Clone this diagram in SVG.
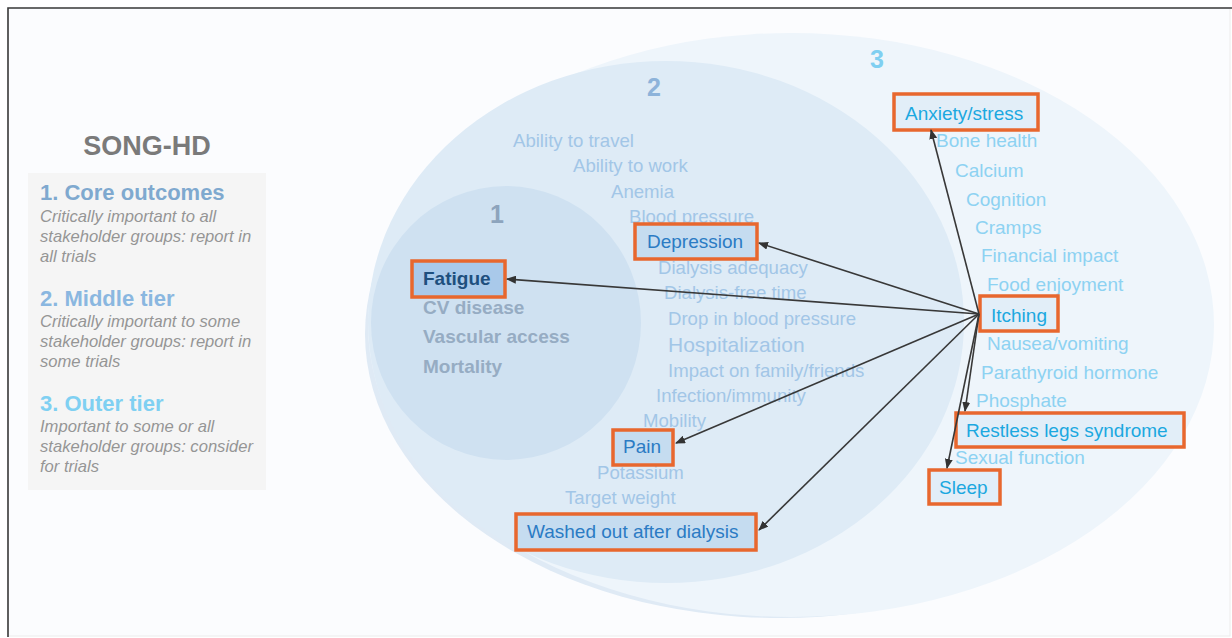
<svg xmlns="http://www.w3.org/2000/svg" width="1232" height="638" viewBox="0 0 1232 638">
<defs>
<marker id="ah" markerWidth="10" markerHeight="8" refX="9" refY="4" orient="auto" markerUnits="userSpaceOnUse">
<path d="M0,0 L10,4 L0,8 z" fill="#333"/>
</marker>
</defs>
<style>
text{font-family:"Liberation Sans",Arial,sans-serif}
.t2{fill:#a2c6e7;font-size:18.6px}
.t3{fill:#8dd2f2;font-size:19px}
.t1{fill:#96acc3;font-size:19px;font-weight:bold}
.box{stroke:#e8672e;stroke-width:3.5}
.b1{fill:#a9c9ea}
.b2{fill:#c5dcf0}
.b3{fill:#e2eef8}
.bt2{fill:#2b7bc4;font-size:19px}
.bt3{fill:#1ba8e0;font-size:19px}
.desc{fill:#959595;font-size:16.6px;font-style:italic}
.conn{stroke:#383838;stroke-width:1.6;fill:none;marker-end:url(#ah)}
</style>
<rect x="0" y="0" width="1232" height="638" fill="#ffffff"/>
<rect x="8" y="8" width="1222" height="628" fill="#fbfcfe" stroke="#ececec" stroke-width="1"/>
<path d="M8,637 L8,8 L1232,8" fill="none" stroke="#3a3a3a" stroke-width="1.6"/>

<g id="legend">
<rect x="28" y="173" width="238" height="317" fill="#f5f5f5"/>
<text x="147" y="155" text-anchor="middle" font-size="27" font-weight="bold" fill="#7a7a7a">SONG-HD</text>
<text x="40" y="200" font-size="22" font-weight="bold" fill="#7fa9cf">1. Core outcomes</text>
<text class="desc" x="40" y="222">Critically important to all</text>
<text class="desc" x="40" y="242">stakeholder groups: report in</text>
<text class="desc" x="40" y="262">all trials</text>
<text x="40" y="306" font-size="22" font-weight="bold" fill="#8ab7e0">2. Middle tier</text>
<text class="desc" x="40" y="327">Critically important to some</text>
<text class="desc" x="40" y="347">stakeholder groups: report in</text>
<text class="desc" x="40" y="367">some trials</text>
<text x="40" y="411" font-size="22" font-weight="bold" fill="#7fd0f2">3. Outer tier</text>
<text class="desc" x="40" y="432">Important to some or all</text>
<text class="desc" x="40" y="452">stakeholder groups: consider</text>
<text class="desc" x="40" y="472">for trials</text>
</g>

<g id="tiers">
<ellipse cx="780" cy="334" rx="415" ry="284" fill="#dfeaf5"/>
<ellipse cx="791" cy="325" rx="423" ry="292" fill="#eef5fb"/>
<ellipse cx="666" cy="322" rx="298" ry="261" fill="#deebf6"/>
<ellipse cx="506" cy="323" rx="135" ry="137" fill="#cfe1f1"/>
<text x="497" y="223" text-anchor="middle" font-size="25" font-weight="bold" fill="#8da4bd">1</text>
<text x="654" y="96" text-anchor="middle" font-size="25" font-weight="bold" fill="#8db3da">2</text>
<text x="877" y="68" text-anchor="middle" font-size="25" font-weight="bold" fill="#7fcff1">3</text>
</g>

<g id="tier1-items">
<text class="t1" x="423" y="314">CV disease</text>
<text class="t1" x="423" y="343">Vascular access</text>
<text class="t1" x="423" y="373">Mortality</text>
</g>

<g id="tier2-items">
<text class="t2" x="513" y="147">Ability to travel</text>
<text class="t2" x="573" y="172">Ability to work</text>
<text class="t2" x="611" y="198">Anemia</text>
<text class="t2" x="629" y="223">Blood pressure</text>
<text class="t2" x="658" y="274">Dialysis adequacy</text>
<text class="t2" x="664" y="299">Dialysis-free time</text>
<text class="t2" x="668" y="325">Drop in blood pressure</text>
<text class="t2" x="668" y="352" style="font-size:21px">Hospitalization</text>
<text class="t2" x="668" y="377">Impact on family/friends</text>
<text class="t2" x="656" y="402">Infection/immunity</text>
<text class="t2" x="643" y="427">Mobility</text>
<text class="t2" x="597" y="479">Potassium</text>
<text class="t2" x="565" y="504">Target weight</text>
</g>

<g id="tier3-items">
<text class="t3" x="936" y="147">Bone health</text>
<text class="t3" x="955" y="177">Calcium</text>
<text class="t3" x="966" y="206">Cognition</text>
<text class="t3" x="975" y="234">Cramps</text>
<text class="t3" x="981" y="262">Financial impact</text>
<text class="t3" x="987" y="291">Food enjoyment</text>
<text class="t3" x="987" y="350">Nausea/vomiting</text>
<text class="t3" x="981" y="379">Parathyroid hormone</text>
<text class="t3" x="976" y="407">Phosphate</text>
<text class="t3" x="955" y="464">Sexual function</text>
</g>

<g id="fatigue">
<rect class="box b1" x="412" y="261" width="93" height="36"/>
<text x="423" y="285" font-size="19" font-weight="bold" fill="#1e4f7e">Fatigue</text>
</g>
<g id="depression">
<rect class="box b2" x="635" y="224" width="122" height="35"/>
<text class="bt2" x="647" y="248">Depression</text>
</g>
<g id="pain">
<rect class="box b2" x="613" y="430" width="60" height="35"/>
<text class="bt2" x="623" y="453">Pain</text>
</g>
<g id="washed-out">
<rect class="box b2" x="516" y="514" width="240" height="36"/>
<text class="bt2" x="527" y="538">Washed out after dialysis</text>
</g>
<g id="anxiety">
<rect class="box b3" x="894" y="94" width="144" height="36"/>
<text class="bt3" x="905" y="120">Anxiety/stress</text>
</g>
<g id="itching">
<rect class="box b3" x="980" y="296" width="78" height="35"/>
<text class="bt3" x="991" y="322">Itching</text>
</g>
<g id="restless-legs">
<rect class="box b3" x="956" y="413" width="228" height="34"/>
<text class="bt3" x="966" y="437">Restless legs syndrome</text>
</g>
<g id="sleep">
<rect class="box b3" x="929" y="470" width="71" height="34"/>
<text class="bt3" x="939" y="494">Sleep</text>
</g>

<g id="connectors">
<line class="conn" x1="979" y1="314" x2="931" y2="130"/>
<line class="conn" x1="979" y1="314" x2="759" y2="243"/>
<line class="conn" x1="979" y1="314" x2="507" y2="279"/>
<line class="conn" x1="979" y1="314" x2="676" y2="443"/>
<line class="conn" x1="979" y1="314" x2="759" y2="530"/>
<line class="conn" x1="979" y1="314" x2="965" y2="411"/>
<line class="conn" x1="979" y1="314" x2="947" y2="468"/>
</g>
</svg>
